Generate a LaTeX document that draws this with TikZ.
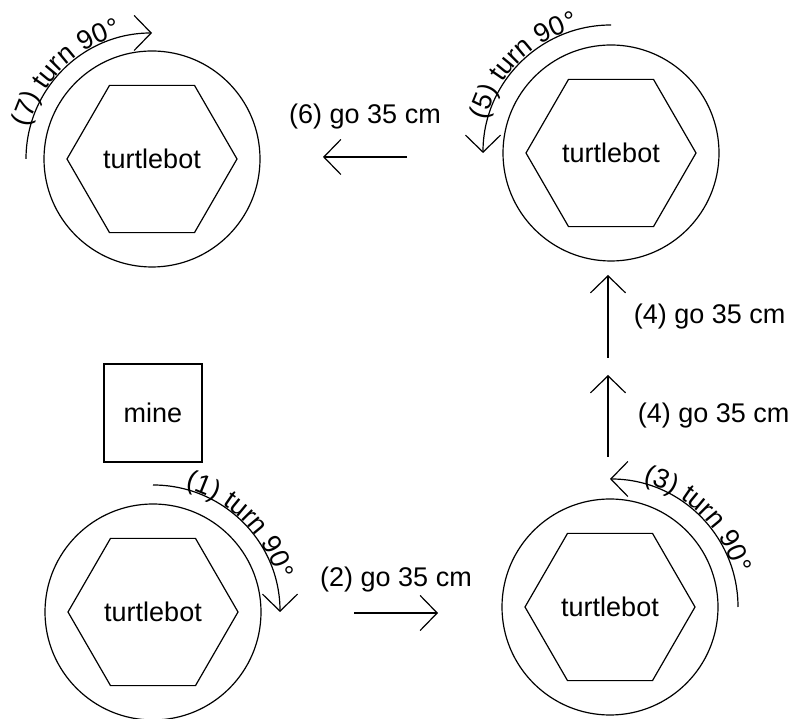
\documentclass[tikz,border=0pt]{standalone}
\usepackage{fontspec}
\setmainfont{Liberation Sans}
\usetikzlibrary{arrows.meta,shapes.geometric,decorations.text,positioning}

\newcommand{\labfont}{\fontsize{27}{32}\selectfont}

\begin{document}
\begin{tikzpicture}[x=1pt,y=1pt,line width=1.2pt,
    >={Straight Barb[length=17pt,width=35pt]},
    every node/.style={font=\labfont},
    robot/.style={circle,draw,minimum size=216pt,inner sep=0pt},
    hexbot/.style={regular polygon,regular polygon sides=6,draw,minimum size=170pt,inner sep=0pt},
    minebox/.style={rectangle,draw,minimum size=98pt,inner sep=0pt},
    go/.style={->},
    turn/.style={->},
    turntext/.style={decorate,decoration={text along path,text align=center,raise=1pt,text={|\labfont|#1}}}]
  \useasboundingbox (0,0) rectangle (795,719);

  % the four positions of the robot
  \node[robot]  (bl) at (153,107) {};
  \node[robot]  (br) at (610,112) {};
  \node[robot]  (tr) at (611,566) {};
  \node[robot]  (tl) at (152,560) {};
  \node[hexbot] (blhex) at (bl) {turtlebot};
  \node[hexbot] (brhex) at (br) {turtlebot};
  \node[hexbot] (trhex) at (tr) {turtlebot};
  \node[hexbot] (tlhex) at (tl) {turtlebot};

  \node[minebox] (mine) at (153,306) {mine};

  % straight moves
  \coordinate (go2s) at (354,106);
  \coordinate (go2e) at (438,106);
  \coordinate (up1s) at (608,262);
  \coordinate (up1e) at (608,344);
  \coordinate (up2s) at (608,361);
  \coordinate (up2e) at (608,444);
  \coordinate (go6s) at (407,562);
  \coordinate (go6e) at (323,562);

  \draw[go] (go2s) -- (go2e) node[midway,yshift=33pt] {(2) go 35 cm};
  \draw[go] (up1s) -- (up1e) node[midway,right=26pt] {(4) go 35 cm};
  \draw[go] (up2s) -- (up2e) node[midway,right=22pt] {(4) go 35 cm};
  \draw[go] (go6s) -- (go6e) node[midway,yshift=40pt] {(6) go 35 cm};

  % turns
  \draw[turn] (bl.center) ++(90:127) arc[start angle=90,end angle=0,radius=127];
  \path[turntext={(1) turn 90°}] (bl.center) ++(90:127) arc[start angle=90,end angle=0,radius=127];

  \draw[turn] (br.center) ++(0:128) arc[start angle=0,end angle=90,radius=128];
  \path[turntext={(3) turn 90°}] (br.center) ++(90:128) arc[start angle=90,end angle=0,radius=128];

  \draw[turn] (tr.center) ++(90:128) arc[start angle=90,end angle=180,radius=128];
  \path[turntext={(5) turn 90°}] (tr.center) ++(180:128) arc[start angle=180,end angle=90,radius=128];

  \draw[turn] (tl.center) ++(180:126) arc[start angle=180,end angle=90,radius=126];
  \path[turntext={(7) turn 90°}] (tl.center) ++(180:126) arc[start angle=180,end angle=90,radius=126];
\end{tikzpicture}
\end{document}
